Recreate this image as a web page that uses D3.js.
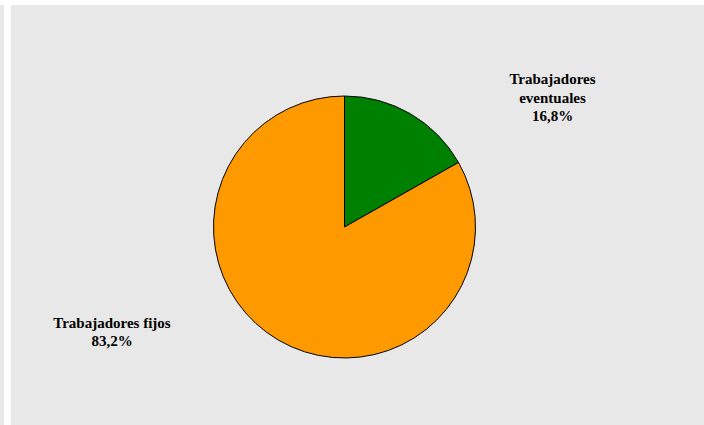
<!DOCTYPE html>
<html>
<head>
<meta charset="utf-8">
<script src="https://cdn.jsdelivr.net/npm/d3@7"></script>
<style>
  html, body { margin: 0; padding: 0; background: #ffffff; }
  svg { display: block; }
  .slice-label { font-family: "Times New Roman", "Liberation Serif", Times, serif; font-weight: bold; font-size: 15px; fill: #000; }
</style>
</head>
<body>
<svg id="chart" width="704" height="425"></svg>
<script>
// Workforce split by contract type
const categories = ["Trabajadores eventuales", "Trabajadores fijos"];
const shares = [16.8, 83.2];
const sliceColors = ["#008000", "#FF9900"];
// Label lines shown next to each slice
const labelLines = [
  ["Trabajadores", "eventuales", "16,8%"],
  ["Trabajadores fijos", "83,2%"]
];

const svg = d3.select("#chart");
const W = 704, H = 425;

// Panel background and left strip
svg.append("rect").attr("x", 0).attr("y", 5).attr("width", 4).attr("height", H - 5).attr("fill", "#e8e8e8");
svg.append("rect").attr("x", 11).attr("y", 5).attr("width", W - 11).attr("height", H - 5).attr("fill", "#e8e8e8");

const cx = 344.5, cy = 227, r = 131;

const pie = d3.pie().sort(null).value(d => d.value);
const arcs = pie(categories.map((c, i) => ({ name: c, value: shares[i], color: sliceColors[i] })));
const arc = d3.arc().innerRadius(0).outerRadius(r);

const g = svg.append("g").attr("transform", `translate(${cx},${cy})`);
g.selectAll("path")
  .data(arcs)
  .join("path")
  .attr("d", arc)
  .attr("fill", d => d.data.color)
  .attr("stroke", "#000")
  .attr("stroke-width", 1);

// Labels placed outside the pie next to each slice
const labelPos = [
  { x: 552.5, y: 84 },
  { x: 112, y: 328 }
];
const lineGap = [18.5, 17.5];

labelLines.forEach((lines, i) => {
  const t = svg.append("text")
    .attr("class", "slice-label")
    .attr("text-anchor", "middle");
  lines.forEach((ln, j) => {
    t.append("tspan")
      .attr("x", labelPos[i].x)
      .attr("y", labelPos[i].y + j * lineGap[i])
      .text(ln);
  });
});
</script>
</body>
</html>
